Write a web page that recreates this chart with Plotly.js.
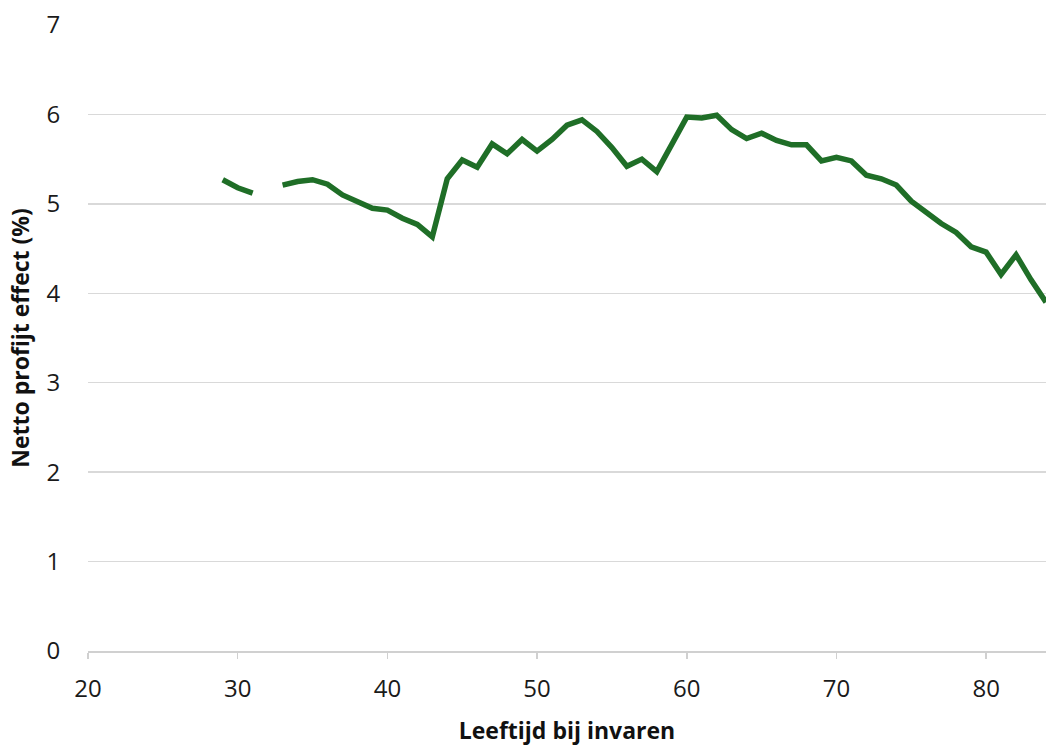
<!DOCTYPE html>
<html>
<head>
<meta charset="utf-8">
<script src="https://cdn.plot.ly/plotly-3.0.1.min.js"></script>
<style>html,body{margin:0;padding:0;background:#fff;}#chart{width:1047px;height:746px;}</style>
</head>
<body>
<div id="chart"></div>
<script>
const ages = [29,30,31,32,33,34,35,36,37,38,39,40,41,42,43,44,45,46,47,48,49,50,51,52,53,54,55,56,57,58,59,60,61,62,63,64,65,66,67,68,69,70,71,72,73,74,75,76,77,78,79,80,81,82,83,84];
const effect = [5.27,5.18,5.12,null,5.21,5.25,5.27,5.22,5.10,5.03,4.95,4.93,4.84,4.77,4.63,5.28,5.49,5.41,5.67,5.56,5.72,5.59,5.72,5.88,5.94,5.81,5.63,5.42,5.50,5.36,5.66,5.97,5.96,5.99,5.83,5.73,5.79,5.71,5.66,5.66,5.48,5.52,5.48,5.32,5.28,5.21,5.03,4.90,4.78,4.68,4.52,4.46,4.21,4.43,4.15,3.90];
const xTicks = [20,30,40,50,60,70,80];
const yTicks = [0,1,2,3,4,5,6,7];

const trace = {
  x: ages, y: effect, type: 'scatter', mode: 'lines',
  connectgaps: false,
  line: {color: '#1f6e27', width: 5.5, shape: 'linear'},
  hoverinfo: 'x+y'
};
const layout = {
  width: 1047, height: 746,
  margin: {l: 88, r: 1, t: 25, b: 95},
  paper_bgcolor: '#fff', plot_bgcolor: '#fff',
  showlegend: false,
  font: {family: 'Open Sans, sans-serif', color: '#1a1a1a'},
  xaxis: {
    range: [20, 84], tickvals: xTicks, ticktext: xTicks.map(String),
    showgrid: false, zeroline: false,
    showline: true, linecolor: '#d0d0d0', linewidth: 1.5,
    ticks: 'outside', ticklen: 6, tickcolor: '#d0d0d0', tickwidth: 1.5,
    ticklabelstandoff: 10,
    tickfont: {size: 24, family: 'Open Sans, sans-serif', color: '#1a1a1a'},
    title: {text: 'Leeftijd bij invaren', font: {size: 23, family: 'Open Sans, sans-serif', weight: 'bold', color: '#111'}, standoff: 20}
  },
  yaxis: {
    range: [0, 7], tickvals: yTicks, ticktext: yTicks.map(String),
    showgrid: true, gridcolor: '#d9d9d9', gridwidth: 1.5,
    zeroline: false, showline: false,
    ticks: 'outside', ticklen: 22, tickcolor: 'rgba(0,0,0,0)',
    tickfont: {size: 24, family: 'Open Sans, sans-serif', color: '#1a1a1a'},
    title: {text: 'Netto profijt effect (%)', font: {size: 23, family: 'Open Sans, sans-serif', weight: 'bold', color: '#111'}, standoff: 10}
  }
};
Plotly.newPlot('chart', [trace], layout, {displayModeBar: false, staticPlot: true});
</script>
</body>
</html>
